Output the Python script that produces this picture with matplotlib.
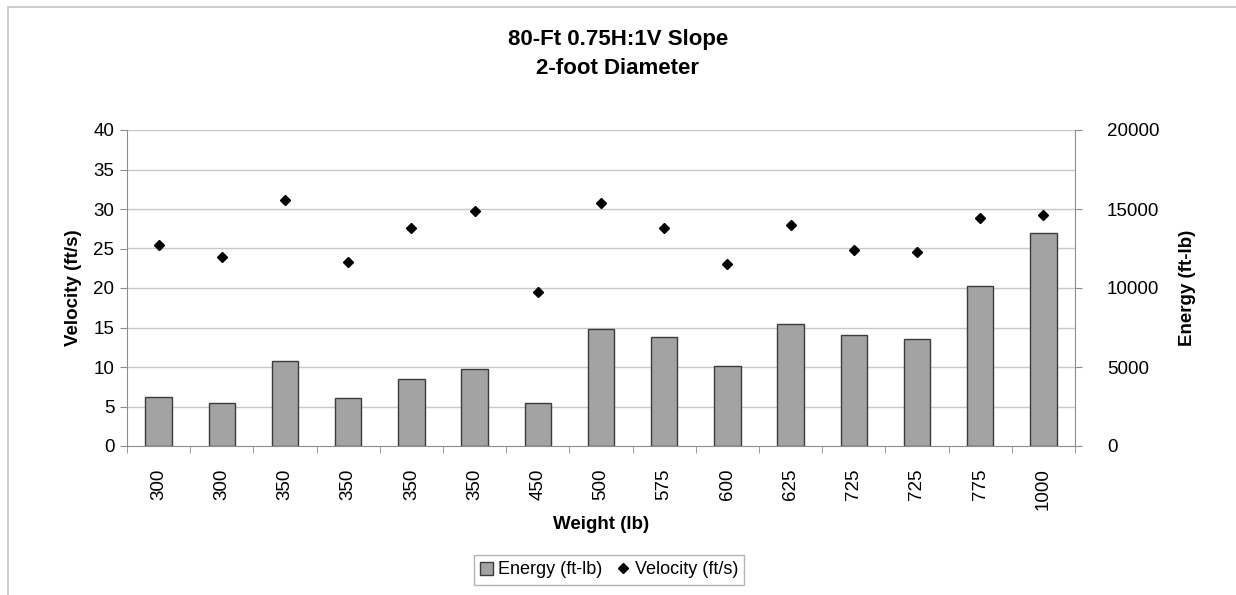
import matplotlib
matplotlib.use("Agg")
import matplotlib.pyplot as plt
import numpy as np
from matplotlib.lines import Line2D
import matplotlib.patches as mpatches

plt.rcParams["font.family"] = ["Liberation Sans", "DejaVu Sans"]

weights = ["300", "300", "350", "350", "350", "350", "450", "500",
           "575", "600", "625", "725", "725", "775", "1000"]
energy = [3100, 2700, 5400, 3050, 4250, 4900, 2700, 7400,
          6900, 5070, 7730, 7000, 6750, 10150, 13450]
velocity = [25.4, 23.9, 31.1, 23.3, 27.6, 29.7, 19.5, 30.7,
            27.6, 23.1, 28.0, 24.8, 24.6, 28.9, 29.3]

BAR_COLOR = "#a3a3a3"
EDGE_COLOR = "#3c3c3c"
GRID_COLOR = "#c8c8c8"
AXIS_COLOR = "#8c8c8c"
TICK_FS = 13.5
LABEL_FS = 13.5

fig = plt.figure(figsize=(12.36, 5.95), dpi=100)
fig.patches.append(mpatches.Rectangle((8 / 1236, -0.1), 1.2, 1 - 7 / 595 + 0.1,
                                      transform=fig.transFigure, fill=False,
                                      edgecolor="#c4c4c4", lw=1.2))

ax = fig.add_axes([127 / 1236, 1 - 446 / 595, (1075 - 127) / 1236, (446 - 130) / 595])
ax2 = ax.twinx()

x = np.arange(len(weights))

# energy bars on secondary axis, velocity on primary
ax2.bar(x, energy, width=0.42, color=BAR_COLOR, edgecolor=EDGE_COLOR, linewidth=1.0, zorder=2)
ax.set_zorder(ax2.get_zorder() + 1)
ax.patch.set_visible(False)
ax.plot(x, velocity, linestyle="none", marker="D", markersize=5.5,
        color="black", zorder=3)

ax.set_xlim(-0.5, len(weights) - 0.5)
ax.set_ylim(0, 40)
ax2.set_ylim(0, 20000)
ax.set_yticks(np.arange(0, 41, 5))
ax2.set_yticks(np.arange(0, 20001, 5000))

for v in np.arange(5, 41, 5):
    ax2.axhline(v * 500, color=GRID_COLOR, lw=1.0, zorder=0)

ax.set_xticks(x)
ax.set_xticklabels(weights, rotation=90, fontsize=TICK_FS)
ax.set_xticks(np.arange(-0.5, len(weights), 1), minor=True)
ax.tick_params(axis="x", which="major", length=0, pad=16)
ax.tick_params(axis="x", which="minor", length=5, color=AXIS_COLOR)
ax.tick_params(axis="y", length=5, color=AXIS_COLOR, labelsize=TICK_FS, pad=4)
ax2.tick_params(axis="y", length=5, color=AXIS_COLOR, labelsize=TICK_FS, pad=18)

for a in (ax, ax2):
    a.spines["top"].set_visible(False)
    for s in ("left", "right", "bottom"):
        a.spines[s].set_color(AXIS_COLOR)
ax.spines["right"].set_visible(False)
ax2.spines["left"].set_visible(False)
ax2.spines["bottom"].set_visible(False)

ax.set_xlabel("Weight (lb)", fontsize=LABEL_FS, fontweight="bold", labelpad=4)
ax.set_ylabel("Velocity (ft/s)", fontsize=LABEL_FS, fontweight="bold", labelpad=8)
ax2.set_ylabel("Energy (ft-lb)", fontsize=LABEL_FS, fontweight="bold", labelpad=14)

fig.text(0.5, 1 - 40 / 595, "80-Ft 0.75H:1V Slope", ha="center", va="center",
         fontsize=16, fontweight="bold")
fig.text(0.5, 1 - 68 / 595, "2-foot Diameter", ha="center", va="center",
         fontsize=16, fontweight="bold")

handles = [
    mpatches.Patch(facecolor=BAR_COLOR, edgecolor=EDGE_COLOR, label="Energy (ft-lb)"),
    Line2D([0], [0], linestyle="none", marker="D", markersize=5, color="black",
           label="Velocity (ft/s)"),
]
fig.legend(handles=handles, loc="center", bbox_to_anchor=(609 / 1236, 1 - 570 / 595),
           ncol=2, fontsize=13, frameon=True, fancybox=False, edgecolor="#a0a0a0",
           handlelength=0.7, handletextpad=0.3, columnspacing=0.8, borderpad=0.35)

fig.savefig("out.png", dpi=100)
